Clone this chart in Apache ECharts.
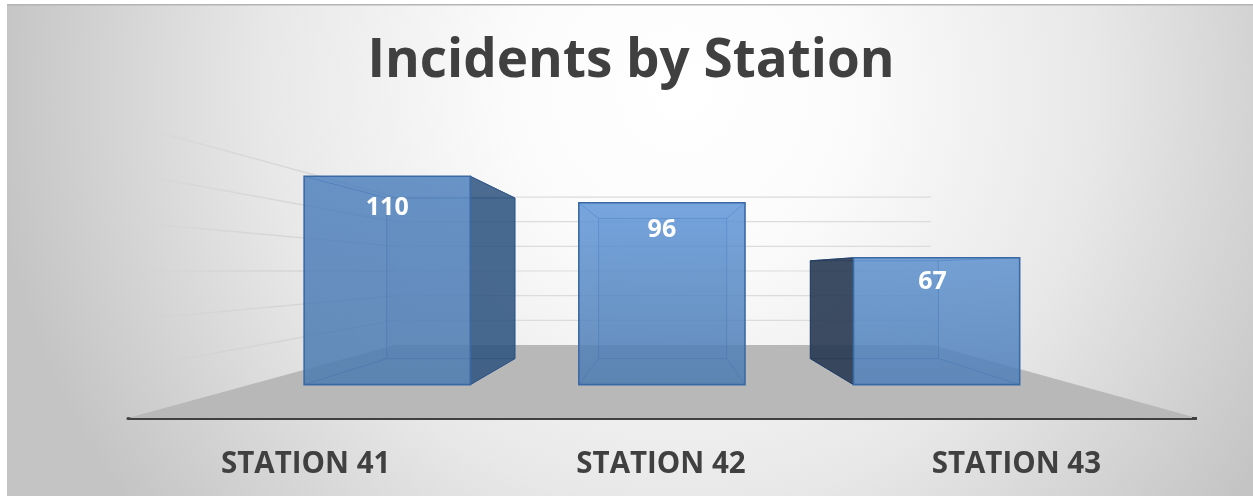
<!DOCTYPE html>
<html><head><meta charset="utf-8">
<style>html,body{margin:0;padding:0;background:#fff}#c{width:1253px;height:496px}</style>
<script src="https://cdn.jsdelivr.net/npm/echarts@6/dist/echarts.min.js"></script>
</head><body><div id="c"></div>
<script>
const titleText = 'Incidents by Station';
const categories = ['STATION 41', 'STATION 42', 'STATION 43'];
const incidents = [110, 96, 67];
const gridTicks = [20, 40, 60, 80, 100, 120];

const FONT = '"Open Sans", sans-serif';
const VP_X_NUDGE = 4;          // vanishing point relative to the middle category
const VP_VALUE = 60;
const D_FRONT = 0.773, D_BACK = 0.596, D_WALL = 0.503, D_LABEL = 0.68;
const BAR_FRAC = 0.605;
const LABEL_SHIFT = [[0, 0], [0, -1], [-4, 3]];

function vp(api) { const p = api.coord([1, VP_VALUE]); return [p[0] + VP_X_NUDGE, p[1]]; }
function proj(p, d, v) { return [v[0] + d * (p[0] - v[0]), v[1] + d * (p[1] - v[1])]; }
function poly(points, style, extra) { return Object.assign({ type: 'polygon', shape: { points }, style }, extra || {}); }
function seg(a, b, stroke, w) {
  return { type: 'line', shape: { x1: a[0], y1: a[1], x2: b[0], y2: b[1] }, style: { stroke, lineWidth: w || 1, fill: null } };
}

function renderFloor(params, api) {
  const v = vp(api), o = api.coord([1, 0]), band = api.size([1, 0])[0];
  const L = [o[0] - 1.5 * band, o[1]], R = [o[0] + 1.5 * band + 3, o[1]];
  return { type: 'group', children: [
    poly([L, R, proj(R, D_WALL, v), proj(L, D_WALL, v)], { fill: '#b8b8b8' }),
    { type: 'rect', shape: { x: R[0] - 5, y: R[1] - 1, width: 5, height: 3 }, style: { fill: '#404040' } }
  ]};
}

function renderGrid(params, api) {
  const v = vp(api), p = api.coord([1, api.value(1)]), band = api.size([1, 0])[0];
  const fl = [p[0] - 1.5 * band, p[1]], fr = [p[0] + 1.5 * band, p[1]];
  const bl = proj(fl, D_WALL, v), br = proj(fr, D_WALL, v);
  const grad = {
    type: 'linear', global: true, x: fl[0], y: fl[1], x2: bl[0], y2: bl[1],
    colorStops: [{ offset: 0, color: 'rgba(205,205,205,0)' }, { offset: 0.35, color: 'rgba(205,205,205,0.45)' }, { offset: 1, color: 'rgba(205,205,205,0.9)' }]
  };
  return { type: 'group', children: [seg(bl, br, '#dcdcdc', 1.2), seg(fl, bl, grad, 1.5)] };
}

const FRONT_FILL = [
  ['rgba(80,130,190,0.85)', 'rgba(78,124,176,0.86)'],
  ['rgba(96,150,216,0.85)', 'rgba(78,124,176,0.86)'],
  ['rgba(92,144,206,0.83)', 'rgba(80,128,184,0.86)']
];

function renderBar(params, api) {
  const i = api.value(0), val = api.value(1);
  const v = vp(api), t = api.coord([i, val]), b = api.coord([i, 0]);
  const hw = api.size([1, 0])[0] * BAR_FRAC / 2;
  const ftl = proj([t[0] - hw, t[1]], D_FRONT, v), ftr = proj([t[0] + hw, t[1]], D_FRONT, v);
  const fbl = proj([t[0] - hw, b[1]], D_FRONT, v), fbr = proj([t[0] + hw, b[1]], D_FRONT, v);
  const btl = proj([t[0] - hw, t[1]], D_BACK, v), btr = proj([t[0] + hw, t[1]], D_BACK, v);
  const bbl = proj([t[0] - hw, b[1]], D_BACK, v), bbr = proj([t[0] + hw, b[1]], D_BACK, v);
  const edge = 'rgba(45,85,140,0.7)';
  const ch = [];
  // back and inner edges
  ch.push(poly([btl, btr, bbr, bbl], { fill: 'rgba(80,130,195,0.10)', stroke: edge, lineWidth: 1 }));
  ch.push(seg(ftl, btl, edge), seg(ftr, btr, edge), seg(fbl, bbl, edge), seg(fbr, bbr, edge));
  // outer side face
  if (btr[0] > ftr[0]) {
    ch.push(poly([ftr, btr, bbr, fbr], { fill: 'rgba(42,80,124,0.84)', stroke: 'rgba(45,85,135,0.9)', lineWidth: 1 }));
  }
  if (btl[0] < ftl[0]) {
    ch.push(poly([ftl, btl, bbl, fbl], { fill: 'rgba(36,54,78,0.88)', stroke: 'rgba(30,60,100,0.9)', lineWidth: 1 }));
  }
  // front face
  ch.push(poly([ftl, ftr, fbr, fbl], {
    fill: { type: 'linear', x: 0, y: 0, x2: 0, y2: 1, colorStops: [
      { offset: 0, color: FRONT_FILL[i][0] }, { offset: 1, color: FRONT_FILL[i][1] }] },
    stroke: '#3a6aa6', lineWidth: 1.6
  }));
  const lp = proj(t, D_LABEL, v);
  const cx = proj(t, D_FRONT, v)[0];
  ch.push({ type: 'text', z2: 10, style: {
    text: String(val), x: cx + LABEL_SHIFT[i][0], y: lp[1] + 20 + LABEL_SHIFT[i][1], align: 'center', verticalAlign: 'middle',
    fill: '#ffffff', font: '700 25px ' + FONT } });
  return { type: 'group', children: ch };
}

const chart = echarts.init(document.getElementById('c'), null, { renderer: 'canvas' });
chart.setOption({
  animation: false,
  backgroundColor: '#ffffff',
  graphic: [
    { type: 'rect', z: -10, silent: true, shape: { x: 7, y: 4, width: 1246, height: 492 }, style: {
      fill: { type: 'radial', global: true, x: 680, y: 90, r: 690, colorStops: [
        { offset: 0, color: '#ffffff' }, { offset: 0.25, color: '#fbfbfb' },
        { offset: 0.6, color: '#e8e8e8' }, { offset: 1, color: '#c4c4c4' }] } } },
    { type: 'rect', z: -9, silent: true, shape: { x: 7, y: 4, width: 1246, height: 1.5 }, style: { fill: '#b4b4b4' } }
  ],
  title: {
    text: titleText, left: 626, top: 30, textAlign: 'center',
    textStyle: { fontFamily: FONT, fontWeight: 700, fontSize: 53, color: '#404040' }
  },
  grid: { left: 128, width: 1066, top: 124, height: 294, containLabel: false },
  xAxis: {
    type: 'category', data: categories,
    axisLine: { show: true, lineStyle: { color: '#404040', width: 3 } },
    axisTick: { show: false }, splitLine: { show: false },
    axisLabel: { margin: 32, fontFamily: FONT, fontWeight: 700, fontSize: 29.5, color: '#404040' }
  },
  yAxis: { type: 'value', min: 0, max: 120, interval: 20, show: false, splitLine: { show: false } },
  series: [
    { type: 'custom', name: 'floor', silent: true, clip: false, z: 1, renderItem: renderFloor, data: [[1, 0]], encode: { x: 0, y: 1 } },
    { type: 'custom', name: 'grid', silent: true, clip: false, z: 2, renderItem: renderGrid, data: gridTicks.map(t => [1, t]), encode: { x: 0, y: 1 } },
    { type: 'custom', name: 'Incidents', silent: true, clip: false, z: 3, renderItem: renderBar, data: incidents.map((d, i) => [i, d]), encode: { x: 0, y: 1 } }
  ]
});
</script></body></html>
